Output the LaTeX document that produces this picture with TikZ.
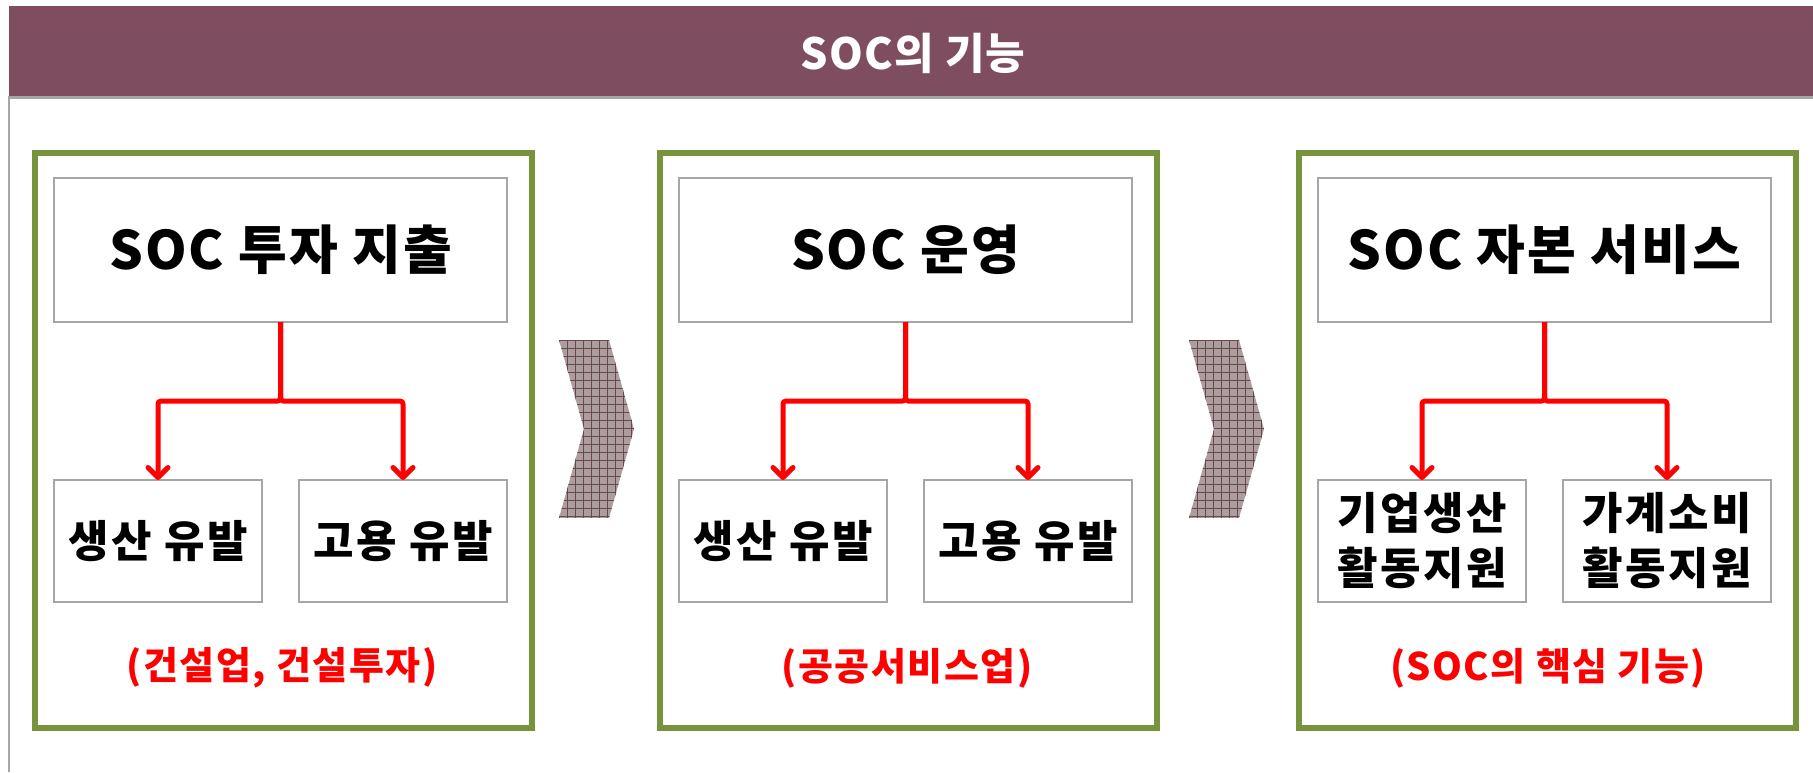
\documentclass[tikz,border=0pt]{standalone}
\usepackage{fontspec}
\setmainfont{Noto Sans CJK KR}
\usetikzlibrary{arrows.meta}
\definecolor{plum}{RGB}{126,78,96}
\definecolor{olive}{RGB}{119,147,60}
\definecolor{lgray}{RGB}{166,166,166}
\definecolor{chevbase}{RGB}{172,158,158}
\definecolor{chevline}{RGB}{104,72,78}
\tikzset{
  greenbox/.style={draw=olive,line width=6pt,inner sep=0pt,outer sep=0pt,minimum width=497pt,minimum height=575pt},
  topbox/.style={draw=lgray,line width=1.5pt,inner sep=0pt,outer sep=0pt,minimum width=453pt,minimum height=144pt,font=\fontsize{53}{60}\selectfont\bfseries\addfontfeature{LetterSpace=4}},
  subbox/.style={draw=lgray,line width=1.5pt,inner sep=0pt,outer sep=0pt,minimum width=208pt,minimum height=122pt,font=\fontsize{44}{55}\selectfont\bfseries\addfontfeature{LetterSpace=6},align=center},
  redlabel/.style={text=red,font=\fontsize{38}{44}\selectfont\bfseries\addfontfeature{LetterSpace=4}},
  redarrow/.style={draw=red,line width=5pt,rounded corners=3pt,-{Straight Barb[length=10pt,width=20pt,round]}},
  chevgrid/.style={draw=chevline,line width=0.8pt}
}
\begin{document}
\begin{tikzpicture}[x=1pt,y=-1pt]
\useasboundingbox (0,0) rectangle (1813,772);
% header
\fill[plum] (9,6) rectangle (1813,96);
\node[text=white,font=\fontsize{43}{50}\selectfont\bfseries\addfontfeature{LetterSpace=3}] (title) at (913,53) {SOC의 기능};
\draw[lgray,line width=3pt] (9,97.5) -- (1813,97.5);
\draw[lgray,line width=2pt] (9,96) -- (9,772);
% panel 1
\node[greenbox] (g1) at (283.5,440.5) {};
\node[topbox] (t1) at (280.5,250) {SOC 투자 지출};
\node[subbox] (a1) at (158,541) {생산 유발};
\node[subbox] (b1) at (403,541) {고용 유발};
\node[redlabel] (l1) at (282,668) {(건설업, 건설투자)};
\draw[redarrow] (t1.south) -- ++(0,79) -| (a1.north);
\draw[redarrow] (t1.south) -- ++(0,79) -| (b1.north);
% panel 2
\node[greenbox] (g2) at (908.5,440.5) {};
\node[topbox] (t2) at (905.5,250) {SOC 운영};
\node[subbox] (a2) at (783,541) {생산 유발};
\node[subbox] (b2) at (1028,541) {고용 유발};
\node[redlabel] (l2) at (907,668) {(공공서비스업)};
\draw[redarrow] (t2.south) -- ++(0,79) -| (a2.north);
\draw[redarrow] (t2.south) -- ++(0,79) -| (b2.north);
% panel 3
\node[greenbox] (g3) at (1547.5,440.5) {};
\node[topbox] (t3) at (1544.5,250) {SOC 자본 서비스};
\node[subbox] (a3) at (1422,541) {기업생산\\활동지원};
\node[subbox] (b3) at (1667,541) {가계소비\\활동지원};
\node[redlabel] (l3) at (1548,668) {(SOC의 핵심 기능)};
\draw[redarrow] (t3.south) -- ++(0,79) -| (a3.north);
\draw[redarrow] (t3.south) -- ++(0,79) -| (b3.north);
% chevrons
\foreach \cx in {559,1189}{
  \begin{scope}
    \clip (\cx,340) -- (\cx+50,340) -- (\cx+75,429) -- (\cx+50,518) -- (\cx,518) -- (\cx+25,429) -- cycle;
    \fill[chevbase] (\cx,340) rectangle (\cx+75,518);
    \foreach \i in {0,8,...,80}{
      \draw[chevgrid] (\cx+\i,340) -- (\cx+\i,518);
    }
    \foreach \j in {0,8,...,184}{
      \draw[chevgrid] (\cx,340+\j) -- (\cx+75,340+\j);
    }
  \end{scope}
}
\end{tikzpicture}
\end{document}
